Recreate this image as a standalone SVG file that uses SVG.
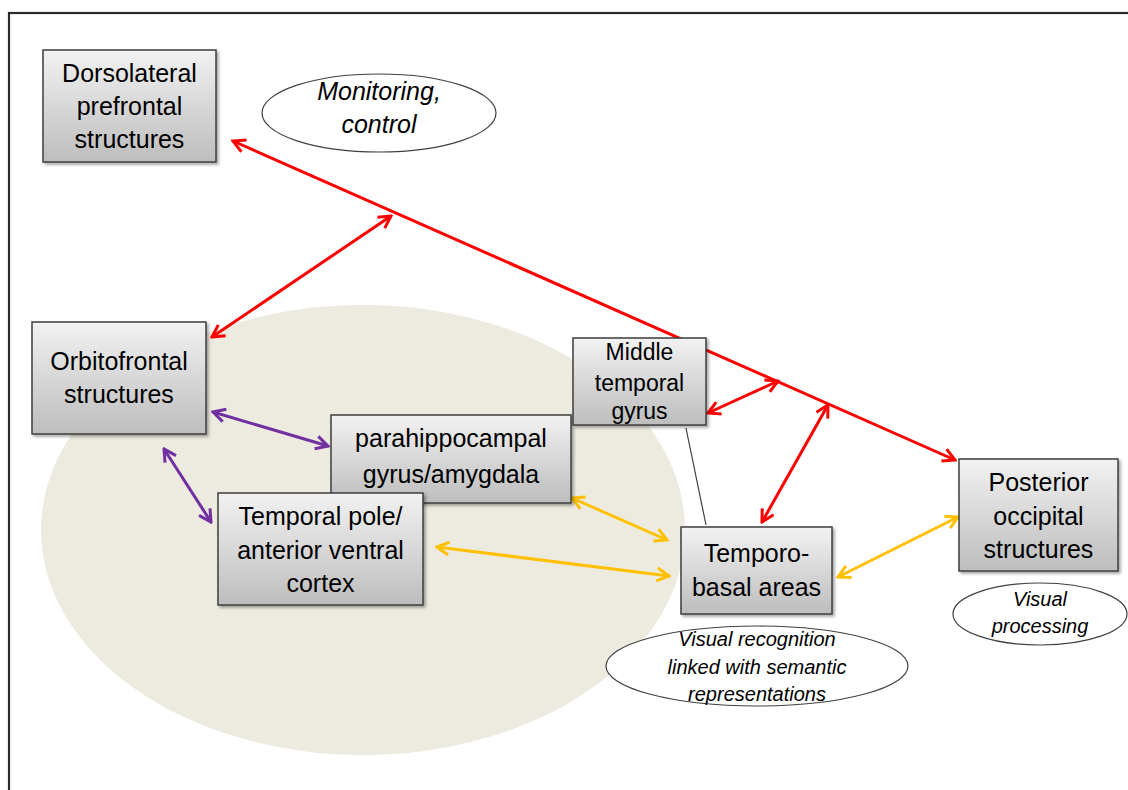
<svg xmlns="http://www.w3.org/2000/svg" width="1128" height="790" viewBox="0 0 1128 790">
<defs>
<linearGradient id="boxg" x1="0" y1="0" x2="0" y2="1">
<stop offset="0" stop-color="#F2F2F2"/>
<stop offset="1" stop-color="#BDBDBD"/>
</linearGradient>
<filter id="sh" x="-10%" y="-10%" width="130%" height="130%">
<feDropShadow dx="2" dy="2" stdDeviation="1.5" flood-color="#000" flood-opacity="0.35"/>
</filter>
<marker id="ar" viewBox="0 0 16 16" markerWidth="16" markerHeight="16" markerUnits="userSpaceOnUse" refX="14" refY="8" orient="auto-start-reverse">
<path d="M2,1.5 L14,8 L2,14.5" fill="none" stroke="#FF0000" stroke-width="3"/>
</marker>
<marker id="ap" viewBox="0 0 16 16" markerWidth="16" markerHeight="16" markerUnits="userSpaceOnUse" refX="14" refY="8" orient="auto-start-reverse">
<path d="M2,1.5 L14,8 L2,14.5" fill="none" stroke="#7030A0" stroke-width="3"/>
</marker>
<marker id="ay" viewBox="0 0 16 16" markerWidth="16" markerHeight="16" markerUnits="userSpaceOnUse" refX="14" refY="8" orient="auto-start-reverse">
<path d="M2,1.5 L14,8 L2,14.5" fill="none" stroke="#FFC000" stroke-width="3"/>
</marker>
</defs>
<style>
.box{fill:url(#boxg);stroke:#3F3F3F;stroke-width:1.5;filter:url(#sh)}
.t{font-family:"Liberation Sans",Arial,sans-serif;font-size:25px;fill:#000;text-anchor:middle}
.ts{font-size:23px}
.oval{fill:#fff;stroke:#404040;stroke-width:1.2}
.it{font-family:"Liberation Sans",Arial,sans-serif;font-style:italic;fill:#000;text-anchor:middle}
.red{stroke:#FF0000;stroke-width:3;fill:none;marker-start:url(#ar);marker-end:url(#ar)}
.pur{stroke:#7030A0;stroke-width:3;fill:none;marker-start:url(#ap);marker-end:url(#ap)}
.yel{stroke:#FFC000;stroke-width:3;fill:none;marker-start:url(#ay);marker-end:url(#ay)}
</style>
<rect x="0" y="0" width="1128" height="790" fill="#fff"/>
<rect x="9" y="13" width="1200" height="900" fill="none" stroke="#2A2A2A" stroke-width="2.2"/>
<ellipse id="region" cx="363" cy="530" rx="322" ry="225" fill="#EDEBE0"/>

<g id="connectors">
<line class="red" x1="233" y1="141" x2="955" y2="460"/>
<line class="red" x1="212" y1="337" x2="391" y2="216"/>
<line class="red" x1="708" y1="413" x2="778" y2="381"/>
<line class="red" x1="762" y1="522" x2="828" y2="405"/>
<line class="pur" x1="213" y1="412" x2="328" y2="446"/>
<line class="pur" x1="164" y1="449" x2="211" y2="522"/>
<line class="yel" x1="572" y1="498" x2="667" y2="540"/>
<line class="yel" x1="437" y1="547" x2="669" y2="576"/>
<line class="yel" x1="838" y1="577" x2="958" y2="517"/>
<line x1="686" y1="428" x2="706" y2="525" stroke="#404040" stroke-width="1.2"/>
</g>

<g id="dorsolateral">
<rect class="box" x="43" y="50" width="173" height="112"/>
<text class="t" x="129.5" y="82">Dorsolateral</text>
<text class="t" x="129.5" y="115">prefrontal</text>
<text class="t" x="129.5" y="148">structures</text>
</g>

<g id="monitoring">
<ellipse class="oval" cx="379" cy="113" rx="117" ry="39"/>
<text class="it" font-size="25" x="379" y="100">Monitoring,</text>
<text class="it" font-size="25" x="379" y="133">control</text>
</g>

<g id="orbitofrontal">
<rect class="box" x="32" y="322" width="174" height="112"/>
<text class="t" x="119" y="370">Orbitofrontal</text>
<text class="t" x="119" y="403">structures</text>
</g>

<g id="parahippocampal">
<rect class="box" x="331" y="415" width="240" height="88"/>
<text class="t" x="451" y="447">parahippocampal</text>
<text class="t" x="451" y="483">gyrus/amygdala</text>
</g>

<g id="temporal-pole">
<rect class="box" x="218" y="493" width="205" height="112"/>
<text class="t" x="320.5" y="525">Temporal pole/</text>
<text class="t" x="320.5" y="559">anterior ventral</text>
<text class="t" x="320.5" y="592">cortex</text>
</g>

<g id="middle-temporal">
<rect class="box" x="573" y="338" width="133" height="87"/>
<text class="t ts" x="639.5" y="360">Middle</text>
<text class="t ts" x="639.5" y="391">temporal</text>
<text class="t ts" x="639.5" y="419">gyrus</text>
</g>

<g id="temporo-basal">
<rect class="box" x="681" y="527" width="151" height="87"/>
<text class="t" x="756.5" y="562">Temporo-</text>
<text class="t" x="756.5" y="596">basal areas</text>
</g>

<g id="posterior">
<rect class="box" x="959" y="459" width="159" height="112"/>
<text class="t" x="1038.5" y="491">Posterior</text>
<text class="t" x="1038.5" y="525">occipital</text>
<text class="t" x="1038.5" y="558">structures</text>
</g>

<g id="visual-processing">
<ellipse class="oval" cx="1040" cy="614" rx="87" ry="31"/>
<text class="it" font-size="20" x="1040" y="606">Visual</text>
<text class="it" font-size="20" x="1040" y="633">processing</text>
</g>

<g id="visual-recognition">
<ellipse class="oval" cx="757" cy="666" rx="151" ry="40"/>
<text class="it" font-size="20" x="757" y="646">Visual recognition</text>
<text class="it" font-size="20" x="757" y="674">linked with semantic</text>
<text class="it" font-size="20" x="757" y="701">representations</text>
</g>
</svg>
